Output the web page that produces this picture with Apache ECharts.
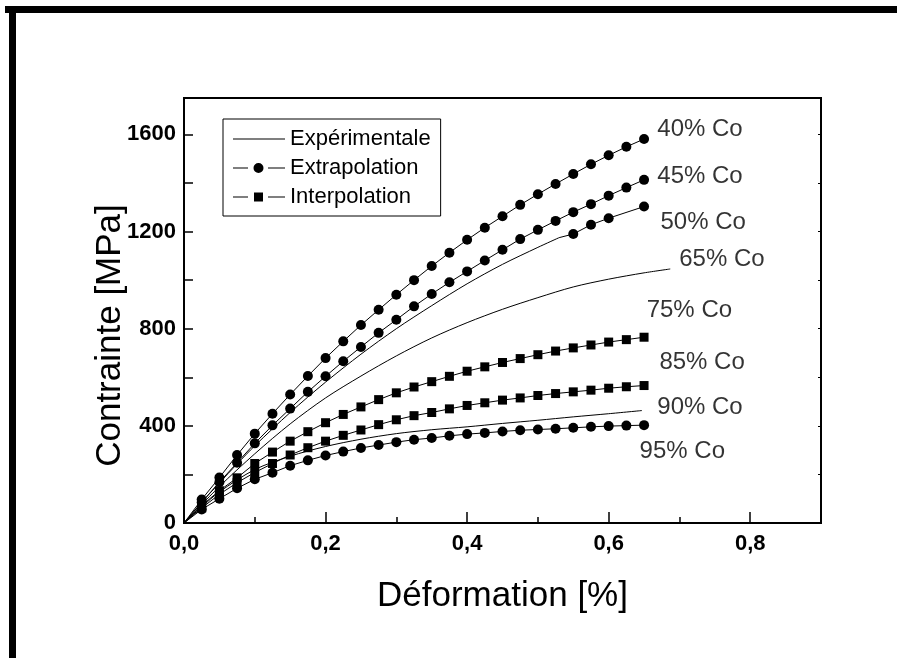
<!DOCTYPE html>
<html>
<head>
<meta charset="utf-8">
<script src="https://cdn.jsdelivr.net/npm/echarts@6/dist/echarts.min.js"></script>
<style>
html, body { margin: 0; padding: 0; background: #fff; }
#chart { width: 897px; height: 658px; }
</style>
</head>
<body>
<div id="chart"></div>
<script>
// déformation (%) des points calculés
var strain = [0, 0.025, 0.05, 0.075, 0.1, 0.125, 0.15, 0.175, 0.2, 0.225, 0.25, 0.275, 0.3, 0.325,
              0.35, 0.375, 0.4, 0.425, 0.45, 0.475, 0.5, 0.525, 0.55, 0.575, 0.6, 0.625, 0.65];

// extrapolation
var co40 = [0, 97, 187, 280, 368, 450, 529, 605, 679, 748, 815, 878, 940, 1000,
            1058, 1113, 1166, 1216, 1263, 1310, 1354, 1396, 1437, 1477, 1514, 1549, 1581];
var co45 = [0, 85, 168, 248, 328, 402, 471, 540, 604, 666, 725, 783, 837, 892,
            943, 991, 1036, 1081, 1125, 1169, 1207, 1244, 1280, 1313, 1348, 1381, 1413];
var co95 = [0, 56, 100, 143, 180, 207, 236, 258, 278, 294, 309, 321, 333, 343,
            350, 359, 366, 371, 377, 382, 385, 388, 392, 396, 399, 401, 403];
// interpolation
var co75 = [0, 72, 133, 186, 245, 292, 337, 376, 413, 447, 478, 508, 536, 560,
            582, 604, 625, 643, 661, 677, 693, 708, 721, 733, 745, 755, 765];
var co85 = [0, 62, 118, 166, 208, 245, 280, 310, 337, 361, 383, 405, 425, 442,
            455, 470, 484, 495, 506, 515, 525, 533, 540, 547, 555, 561, 566];

// expérimentale
var co50Strain = [0, 0.025, 0.05, 0.075, 0.1, 0.15, 0.2, 0.25, 0.3, 0.35, 0.4, 0.45, 0.5, 0.53];
var co50 = [0, 85, 165, 243, 318, 455, 580, 695, 800, 895, 985, 1065, 1135, 1175];
var co50ExtStrain = [0.55, 0.575, 0.6, 0.65];
var co50Ext = [1190, 1228, 1255, 1303];
var co65Strain = [0, 0.05, 0.1, 0.15, 0.2, 0.25, 0.3, 0.35, 0.4, 0.45, 0.5, 0.55, 0.6, 0.65, 0.687];
var co65 = [0, 150, 285, 408, 515, 605, 688, 762, 825, 880, 928, 972, 1004, 1030, 1046];
var co90Strain = [0, 0.025, 0.05, 0.1, 0.15, 0.2, 0.25, 0.3, 0.35, 0.4, 0.45, 0.5, 0.55, 0.6, 0.647];
var co90 = [0, 66, 128, 220, 275, 315, 345, 368, 384, 396, 410, 423, 437, 450, 463];

var curveNames = ['40% Co', '45% Co', '50% Co', '65% Co', '75% Co', '85% Co', '90% Co', '95% Co'];
// où chaque étiquette commence (déformation, contrainte)
var labelAt = [[0.668, 1622], [0.668, 1426], [0.6725, 1236], [0.699, 1084],
               [0.653, 875], [0.671, 662], [0.668, 477], [0.643, 296]];

var xTicks = [0, 0.2, 0.4, 0.6, 0.8];
var yTicks = [0, 400, 800, 1200, 1600];

var font = 'Liberation Sans, Arial, sans-serif';

// icônes de légende : trait, symbole, trait
var iconLine = 'path://M0,6.5H52V7.5H0Z';
var iconCircle = 'path://M0,6.5H15V7.5H0Z M20.5,7a5,5 0 1,0 10,0a5,5 0 1,0 -10,0Z M35,6.5H52V7.5H35Z';
var iconSquare = 'path://M0,6.5H15V7.5H0Z M21,2.5H30V11.5H21Z M35,6.5H52V7.5H35Z';

function pairs(xs, ys) {
  return xs.map(function (x, i) {
    return x === 0 ? { value: [x, ys[i]], symbol: 'none' } : [x, ys[i]];
  });
}
function marked(name, ys, shape, size) {
  return {
    name: name, type: 'line', data: pairs(strain, ys),
    symbol: shape, symbolSize: size,
    itemStyle: { color: '#000' },
    lineStyle: { color: '#000', width: 1 },
    z: 3
  };
}
function plain(xs, ys) {
  return {
    name: 'Expérimentale', type: 'line', data: pairs(xs, ys),
    symbol: 'none', smooth: 0.3,
    itemStyle: { color: '#000' },
    lineStyle: { color: '#000', width: 1 },
    z: 2
  };
}

var co50ExtData = [{ value: [co50Strain[co50Strain.length - 1], co50[co50.length - 1]], symbol: 'none' }]
  .concat(pairs(co50ExtStrain, co50Ext));

var chart = echarts.init(document.getElementById('chart'));

chart.setOption({
  animation: false,
  backgroundColor: '#fff',
  textStyle: { fontFamily: font, color: '#000' },
  graphic: [
    { type: 'rect', shape: { x: 5, y: 6, width: 892, height: 7 }, style: { fill: '#000' } },
    { type: 'rect', shape: { x: 9, y: 6, width: 7, height: 652 }, style: { fill: '#000' } }
  ],
  grid: {
    left: 184, right: 76, top: 98, bottom: 135,
    show: true, borderColor: '#000', borderWidth: 2, backgroundColor: 'transparent'
  },
  legend: {
    data: [
      { name: 'Expérimentale', icon: iconLine },
      { name: 'Extrapolation', icon: iconCircle },
      { name: 'Interpolation', icon: iconSquare }
    ],
    orient: 'vertical', left: 223, top: 119,
    borderColor: '#000', borderWidth: 1, borderRadius: 0,
    padding: [9, 10, 8, 10],
    itemWidth: 52, itemHeight: 14, itemGap: 7,
    itemStyle: { color: '#000', borderWidth: 0 },
    textStyle: { fontSize: 22, lineHeight: 22, color: '#000', fontFamily: font }
  },
  xAxis: [{
    type: 'value', position: 'bottom', min: 0, max: 0.9, interval: 0.2,
    name: 'Déformation [%]', nameLocation: 'middle', nameGap: 56,
    nameTextStyle: { fontSize: 35, color: '#000', fontFamily: font },
    axisLine: { show: true, onZero: false, lineStyle: { color: '#000', width: 2 } },
    axisTick: { show: true, inside: true, length: 11, lineStyle: { color: '#000', width: 1.5 } },
    axisLabel: {
      margin: 10, fontSize: 22, fontWeight: 'bold', color: '#000', fontFamily: font,
      formatter: function (v) {
        return xTicks.indexOf(Math.round(v * 10) / 10) >= 0 ? v.toFixed(1).replace('.', ',') : '';
      }
    },
    splitLine: { show: false }
  }, {
    type: 'value', position: 'bottom', min: 0, max: 0.9, interval: 0.1,
    axisLine: { show: false },
    axisTick: { show: true, inside: true, length: 6, lineStyle: { color: '#000', width: 1.5 } },
    axisLabel: { show: false },
    splitLine: { show: false }
  }],
  yAxis: [{
    type: 'value', position: 'left', min: 0, max: 1750, interval: 200,
    name: 'Contrainte [MPa]', nameLocation: 'middle', nameGap: 56, nameMoveOverlap: false,
    nameTextStyle: { fontSize: 35, color: '#000', fontFamily: font, padding: [0, 50, 0, 0] },
    axisLine: { show: true, onZero: false, lineStyle: { color: '#000', width: 2 } },
    axisTick: { show: true, inside: true, length: 9, lineStyle: { color: '#000', width: 1.5 } },
    axisLabel: {
      margin: 8, fontSize: 22, fontWeight: 'bold', color: '#000', fontFamily: font,
      formatter: function (v) { return yTicks.indexOf(v) >= 0 ? String(v) : ''; }
    },
    splitLine: { show: false }
  }, {
    type: 'value', position: 'right', min: 0, max: 1750, interval: 200,
    axisLine: { show: true, onZero: false, lineStyle: { color: '#000', width: 2 } },
    axisTick: { show: true, inside: true, length: 3, lineStyle: { color: '#000', width: 1 } },
    axisLabel: { show: false },
    splitLine: { show: false }
  }],
  series: [
    plain(co50Strain, co50),
    plain(co65Strain, co65),
    plain(co90Strain, co90),
    marked('Extrapolation', co40, 'circle', 10),
    marked('Extrapolation', co45, 'circle', 10),
    {
      name: 'Extrapolation', type: 'line', data: co50ExtData,
      symbol: 'circle', symbolSize: 10,
      itemStyle: { color: '#000' }, lineStyle: { color: '#000', width: 1 }, z: 3
    },
    marked('Interpolation', co75, 'rect', 9),
    marked('Interpolation', co85, 'rect', 9),
    marked('Extrapolation', co95, 'circle', 10),
    {
      name: 'labels', type: 'scatter', silent: true,
      data: labelAt.map(function (p, i) { return { value: p, name: curveNames[i] }; }),
      symbolSize: 1, itemStyle: { color: 'transparent' },
      label: {
        show: true, position: 'right', distance: 0, formatter: '{b}',
        fontSize: 24, color: '#000', fontFamily: font
      },
      z: 4
    }
  ]
});
</script>
</body>
</html>
